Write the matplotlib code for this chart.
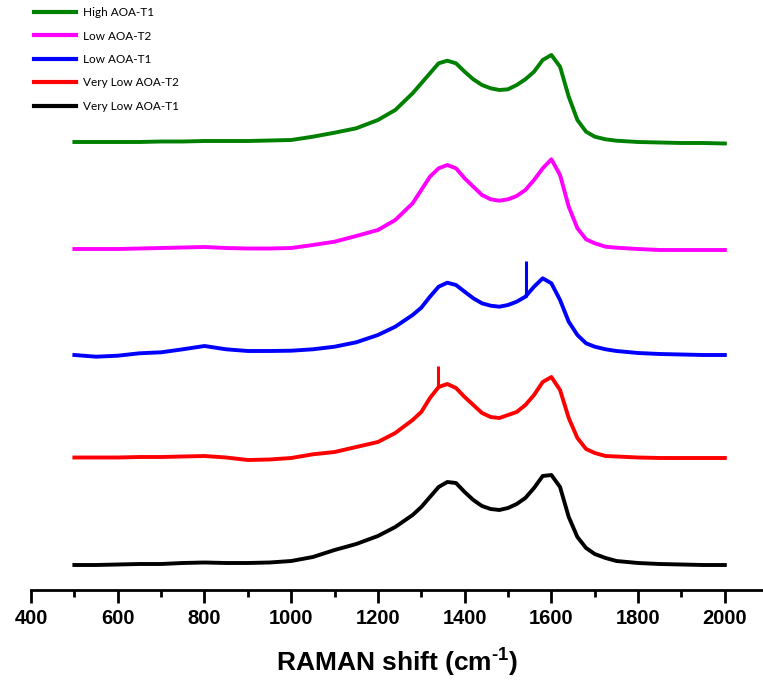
import numpy as np
import matplotlib.pyplot as plt
from matplotlib.lines import Line2D

plt.rcParams['mathtext.fontset'] = 'custom'
plt.rcParams['mathtext.rm'] = 'Liberation Sans:bold'

# Raman shift grid (cm-1)
shift = [500, 550, 600, 650, 700, 750, 800, 850, 900, 950, 1000, 1050, 1100, 1150,
         1200, 1240, 1280, 1300, 1320, 1340, 1360, 1380, 1400, 1420, 1440, 1460,
         1480, 1500, 1520, 1540, 1560, 1580, 1600, 1620, 1640, 1660, 1680, 1700,
         1725, 1750, 1800, 1850, 1900, 1950, 2000]

# Intensities (a.u., relative to each spectrum's own baseline)
very_low_t1 = [0, 0, 0.5, 1, 1, 2, 2.5, 2, 2, 2.5, 4, 8, 15, 21,
               29, 38, 50, 58, 68, 78, 83, 82, 73, 65, 59, 56,
               55, 57, 61, 67, 77, 89, 90, 78, 48, 28, 17, 11,
               7, 4, 2, 1, 0.5, 0, 0]
very_low_t2 = [0.5, 0.5, 0.5, 1, 1, 1.5, 2, 0.5, -2, -1.5, 0, 3.7, 6, 11,
               16, 25, 38, 46, 60, 71, 74, 70, 61, 53, 45, 41,
               40, 43, 46, 53, 63, 76, 81, 68, 40, 20, 9, 5,
               2, 1.5, 0.5, 0, 0, 0, 0]
low_t1 = [0, -1.7, -0.7, 1.7, 2.7, 5.7, 9, 5.7, 4, 4, 4.3, 5.7, 8.3, 12.7,
          20, 28.3, 40, 47.3, 58.3, 68.3, 72.3, 70, 63.3, 56.7, 51.7, 49.3,
          48.3, 50, 53.3, 58.3, 68.3, 76.7, 71.7, 55, 33.3, 20, 11.7, 8.3,
          5.7, 4, 2, 1, 0.5, 0, 0]
low_t2 = [1, 1, 1, 1.5, 2, 2.5, 3, 2, 1.5, 1.5, 2, 5, 8.3, 14,
          20, 30, 46.7, 60, 73.3, 81.7, 85, 81.7, 71.7, 63.3, 55, 50.7,
          49.3, 50.7, 54, 60, 70, 81.7, 90.7, 75, 43.3, 21.7, 10.7, 6.7,
          3.3, 2.3, 1, 0, 0, 0, 0]
high_t1 = [1, 1, 1, 1, 1.5, 1.5, 2, 2, 2, 2.5, 3, 6.3, 10.3, 14.7,
           23, 33, 49.7, 59.7, 69.7, 79.7, 82.3, 79.7, 71.3, 63.7, 58, 54.7,
           53, 53.7, 58, 63.7, 71.3, 83, 88, 76.3, 46.3, 23, 11.3, 6.3,
           3.7, 2.3, 1, 0.5, 0, 0, -0.5]

# cosmic-ray spikes: (shift, bottom, top)
spike_t2 = (1338, 71, 92)
spike_t1 = (1541, 58, 94)

labels = ['Very Low AOA-T1', 'Very Low AOA-T2', 'Low AOA-T1', 'Low AOA-T2', 'High AOA-T1']
colors = ['black', '#ff0000', '#0000ff', '#ff00ff', '#008000']
offsets = [25, 132, 235, 340, 447]
spectra = [very_low_t1, very_low_t2, low_t1, low_t2, high_t1]

fig = plt.figure(figsize=(7.63, 6.81), dpi=100)
ax = fig.add_axes([31 / 763, 91 / 681, 732 / 763, 590 / 681])

for y, c, off in zip(spectra, colors, offsets):
    ax.plot(shift, np.array(y) + off, color=c, lw=2.8, solid_joinstyle='round')

for (sx, lo, hi), off, c in [(spike_t2, offsets[1], colors[1]), (spike_t1, offsets[2], colors[2])]:
    ax.vlines(sx, lo + off, hi + off, color=c, lw=2.2)

ax.set_xlim(400, 2088)
ax.set_ylim(0, 590)
for s in ['left', 'right', 'top']:
    ax.spines[s].set_visible(False)
ax.spines['bottom'].set_linewidth(2)
ax.set_yticks([])
ax.set_xticks(range(400, 2001, 200))
ax.set_xticks(range(500, 2001, 200), minor=True)
ax.tick_params(axis='x', which='major', length=9, width=2, pad=5,
               labelsize=14.5)
ax.tick_params(axis='x', which='minor', length=5, width=2)
for t in ax.get_xticklabels():
    t.set_fontfamily('Liberation Sans')
    t.set_fontweight('bold')
ax.set_xlabel('RAMAN shift (cm$^{\\text{-1}}$)', fontsize=19, fontweight='bold',
              family='Liberation Sans', labelpad=12)

handles = [Line2D([], [], color=c, lw=3) for c in colors[::-1]]
fig.legend(handles, labels[::-1], loc='upper left', bbox_to_anchor=(0.03, 1.005),
           frameon=False, prop={'family': 'Lato', 'size': 8.5},
           handlelength=3.6, handletextpad=0.6, labelspacing=1.05)

fig.savefig('out.png', dpi=100)
